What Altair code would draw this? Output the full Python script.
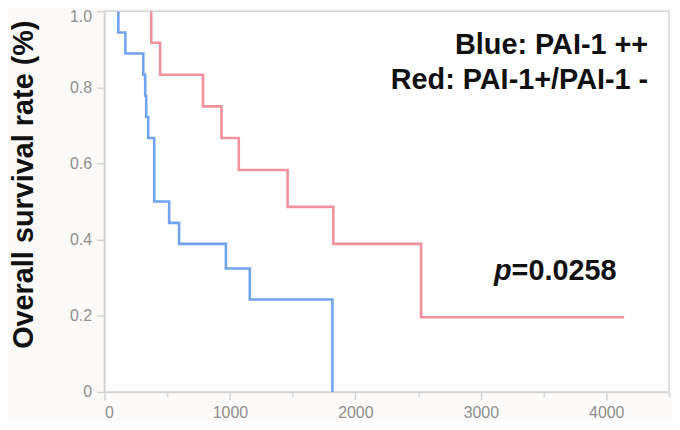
import altair as alt
import pandas as pd

# Kaplan-Meier steps
blue_time = [111, 111, 167, 310, 325, 333, 349, 397, 516, 595, 968, 1159, 1817]
blue_surv = [1.0, 0.944, 0.889, 0.833, 0.778, 0.722, 0.667, 0.5, 0.444, 0.389, 0.324, 0.243, 0.0]
red_time = [373, 373, 444, 786, 933, 1071, 1460, 1825, 2524, 4143]
red_surv = [1.0, 0.917, 0.833, 0.75, 0.667, 0.583, 0.486, 0.389, 0.196, 0.196]

group_names = ["PAI-1 ++", "PAI-1+/PAI-1 -"]
group_colors = ["#72a3f0", "#f0919b"]

ann_text = ["Blue: PAI-1 ++", "Red: PAI-1+/PAI-1 -"]
ann_x = [4334, 4334]
ann_y = [0.888, 0.796]
p_text = ["=0.0258"]
p_x = [3245]
p_y = [0.295]

x_ticks = [0, 500, 1000, 1500, 2000, 2500, 3000, 3500, 4000, 4500]
y_ticks = [0, 0.1, 0.2, 0.3, 0.4, 0.5, 0.6, 0.7, 0.8, 0.9, 1.0]

rows = []
for i, (t, s) in enumerate(zip(blue_time, blue_surv)):
    rows.append({"group": group_names[0], "time": t, "surv": s, "order": i})
for i, (t, s) in enumerate(zip(red_time, red_surv)):
    rows.append({"group": group_names[1], "time": t, "surv": s, "order": i})
df = pd.DataFrame(rows)

ann_df = pd.DataFrame({"text": ann_text, "x": ann_x, "y": ann_y})
p_df = pd.DataFrame({"text": p_text, "x": p_x, "y": p_y})
pi_df = pd.DataFrame({"text": ["p"], "x": p_x, "y": p_y})

FONT = "Liberation Sans"
GRAY = "#8e8e8e"
AX = "#d4d4d4"

xscale = alt.Scale(domain=[0, 4500], nice=False, zero=True)
yscale = alt.Scale(domain=[0, 1], nice=False)

lines = alt.Chart(df).mark_line(interpolate="step-after", strokeWidth=2.6, clip=True).encode(
    x=alt.X("time:Q", scale=xscale, axis=alt.Axis(
        values=x_ticks, title=None, grid=False,
        labelExpr="datum.value % 1000 == 0 ? format(datum.value, 'd') : ''",
        tickSize={"condition": {"test": "datum.value % 1000 == 0", "value": 8}, "value": 5},
        labelPadding=5, labelFontSize=16, labelColor=GRAY, labelFont=FONT,
        domainColor=AX, tickColor=AX, domainWidth=1.5, tickWidth=1.5)),
    y=alt.Y("surv:Q", scale=yscale, axis=alt.Axis(
        values=y_ticks, grid=False,
        title="Overall survival rate (%)",
        labelExpr="round(datum.value*10) % 2 == 0 ? (datum.value == 0 ? '0' : format(datum.value, '.1f')) : ''",
        labelOffset={"condition": {"test": "datum.value == 1", "value": 5}, "value": 0},
        tickSize={"condition": {"test": "round(datum.value*10) % 2 == 0", "value": 8}, "value": 5},
        labelPadding=5, labelFontSize=16, labelColor=GRAY, labelFont=FONT,
        domainColor=AX, tickColor=AX, domainWidth=1.5, tickWidth=1.5,
        titleFont=FONT, titleFontSize=29, titleFontWeight="bold", titleColor="#111111",
        titleAngle=-90, titleAlign="center", titleBaseline="alphabetic",
        titleX=-72, titleY=174)),
    color=alt.Color("group:N", scale=alt.Scale(domain=group_names, range=group_colors), legend=None),
    order="order:Q",
)

ann = alt.Chart(ann_df).mark_text(align="right", baseline="alphabetic", font=FONT,
                                  fontSize=29, fontWeight="bold", color="#111111").encode(
    x=alt.X("x:Q", scale=xscale), y=alt.Y("y:Q", scale=yscale), text="text:N")

pval = alt.Chart(p_df).mark_text(align="left", baseline="alphabetic", font=FONT,
                                 fontSize=29, fontWeight="bold", color="#111111").encode(
    x=alt.X("x:Q", scale=xscale), y=alt.Y("y:Q", scale=yscale), text="text:N")

pital = alt.Chart(pi_df).mark_text(align="right", baseline="alphabetic", font=FONT,
                                   fontSize=29, fontWeight="bold", fontStyle="italic",
                                   color="#111111").encode(
    x=alt.X("x:Q", scale=xscale), y=alt.Y("y:Q", scale=yscale), text="text:N")

chart = alt.layer(lines, ann, pval, pital).properties(
    width=568, height=383,
    autosize=alt.AutoSizeParams(type="none"),
    padding={"left": 97, "top": 2, "right": 3, "bottom": 28},
    background="#fbfaf8",
).configure_view(stroke=AX, strokeWidth=1.5, fill="white")

chart.save("out.html", embed_options={"renderer": "svg", "actions": False})
